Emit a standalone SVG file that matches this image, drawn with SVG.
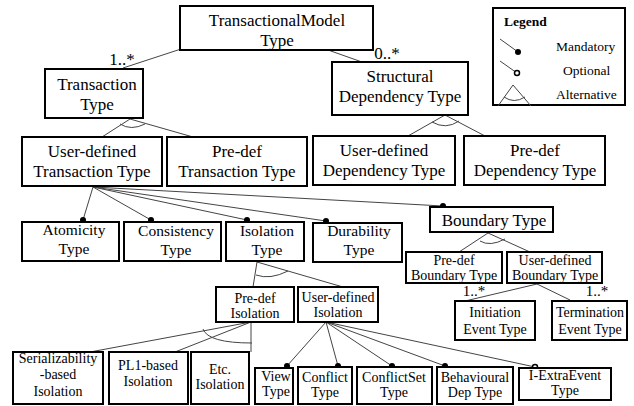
<svg xmlns="http://www.w3.org/2000/svg" width="634" height="406" viewBox="0 0 634 406" font-family="Liberation Serif, serif" style="font-family:'Liberation Serif',serif">
<rect width="634" height="406" fill="#fff"/>
<g id="connectors">
<g stroke="#444" stroke-width="1" fill="none">
<line x1="181" y1="49" x2="123" y2="68"/>
<line x1="328" y1="50" x2="362" y2="62"/>
<line x1="130" y1="119" x2="102" y2="137"/>
<line x1="130" y1="119" x2="193" y2="137"/>
<path d="M120,124 Q131,131 145,124"/>
<line x1="445" y1="115" x2="408" y2="136"/>
<line x1="445" y1="115" x2="485" y2="136"/>
<path d="M432,122 Q446,130 459,121"/>
<line x1="93" y1="187" x2="83" y2="220"/>
<line x1="93" y1="187" x2="151" y2="220"/>
<line x1="93" y1="187" x2="247" y2="220"/>
<line x1="93" y1="187" x2="326" y2="221"/>
<line x1="93" y1="187" x2="443" y2="206"/>
<line x1="488" y1="233" x2="459" y2="252"/>
<line x1="488" y1="233" x2="530" y2="252"/>
<path d="M480,241 Q490,247 505,239"/>
<line x1="537" y1="284" x2="465" y2="301"/>
<line x1="537" y1="284" x2="570" y2="300"/>
<line x1="257" y1="262" x2="253" y2="287"/>
<line x1="257" y1="262" x2="343" y2="287"/>
<path d="M256,275 Q270,280 288,271"/>
<line x1="251" y1="322" x2="90" y2="352"/>
<line x1="251" y1="322" x2="175" y2="352"/>
<line x1="251" y1="322" x2="251" y2="352"/>
<path d="M203,329 Q208,343 252,343"/>
<line x1="326" y1="322" x2="287" y2="366"/>
<line x1="326" y1="322" x2="338" y2="366"/>
<line x1="326" y1="322" x2="392" y2="366"/>
<line x1="326" y1="322" x2="445" y2="366"/>
<line x1="326" y1="322" x2="535" y2="367"/>
</g>
<g fill="#000">
<circle cx="83" cy="220" r="3"/>
<circle cx="151" cy="220" r="3"/>
<circle cx="247" cy="220" r="3"/>
<circle cx="326" cy="221" r="3"/>
<circle cx="443" cy="206" r="3"/>
<circle cx="287" cy="366" r="3"/>
<circle cx="338" cy="366" r="3"/>
<circle cx="392" cy="366" r="3"/>
<circle cx="445" cy="366" r="3"/>
</g>
<circle cx="535" cy="367" r="2.5" fill="#fff" stroke="#000" stroke-width="1.5"/>
<text style="font-family:'Liberation Serif',serif" font-size="17" text-anchor="middle" x="122" y="65">1..*</text>
<text style="font-family:'Liberation Serif',serif" font-size="17" text-anchor="middle" x="387" y="59">0..*</text>
<text style="font-family:'Liberation Serif',serif" font-size="15" text-anchor="middle" x="474" y="296">1..*</text>
<text style="font-family:'Liberation Serif',serif" font-size="15" text-anchor="middle" x="597" y="296">1..*</text>
</g>
<g id="tmt"><rect fill="#fff" stroke="#000" stroke-width="2" x="180" y="6" width="193" height="44"/><text style="font-family:'Liberation Serif',serif" font-size="17" text-anchor="middle" x="277" y="26">TransactionalModel</text><text style="font-family:'Liberation Serif',serif" font-size="17" text-anchor="middle" x="277" y="46">Type</text></g>
<g id="tt"><rect fill="#fff" stroke="#000" stroke-width="2" x="45" y="69" width="98" height="49"/><text style="font-family:'Liberation Serif',serif" font-size="17" text-anchor="middle" x="97" y="90">Transaction</text><text style="font-family:'Liberation Serif',serif" font-size="17" text-anchor="middle" x="97" y="110">Type</text></g>
<g id="sdt"><rect fill="#fff" stroke="#000" stroke-width="2" x="332" y="62" width="136" height="53"/><text style="font-family:'Liberation Serif',serif" font-size="17" text-anchor="middle" x="400" y="82">Structural</text><text style="font-family:'Liberation Serif',serif" font-size="17" text-anchor="middle" x="400" y="102">Dependency Type</text></g>
<g id="legend"><rect fill="#fff" stroke="#000" stroke-width="2" x="493" y="8" width="132" height="97"/>
<text style="font-family:'Liberation Serif',serif" font-size="13.5" x="504" y="26" font-weight="bold">Legend</text>
<line stroke="#444" x1="500" y1="39" x2="518" y2="52"/><circle fill="#000" cx="518" cy="52" r="3"/>
<text style="font-family:'Liberation Serif',serif" font-size="13.5" x="556" y="51">Mandatory</text>
<line stroke="#444" x1="500" y1="61" x2="517" y2="73"/><circle fill="#fff" stroke="#000" stroke-width="1.5" cx="517" cy="73" r="2.5"/>
<text style="font-family:'Liberation Serif',serif" font-size="13.5" x="563" y="75">Optional</text>
<line stroke="#444" x1="513" y1="85" x2="498" y2="106"/><line stroke="#444" x1="513" y1="85" x2="531" y2="106"/>
<path stroke="#444" fill="none" d="M504,97 Q514,104 525,97"/>
<text style="font-family:'Liberation Serif',serif" font-size="13.5" x="556" y="99">Alternative</text></g>
<g id="udtt"><rect fill="#fff" stroke="#000" stroke-width="2" x="22" y="137" width="140" height="49"/><text style="font-family:'Liberation Serif',serif" font-size="17" text-anchor="middle" x="92" y="157">User-defined</text><text style="font-family:'Liberation Serif',serif" font-size="17" text-anchor="middle" x="92" y="177">Transaction Type</text></g>
<g id="pdtt"><rect fill="#fff" stroke="#000" stroke-width="2" x="167" y="137" width="140" height="49"/><text style="font-family:'Liberation Serif',serif" font-size="17" text-anchor="middle" x="237" y="157">Pre-def</text><text style="font-family:'Liberation Serif',serif" font-size="17" text-anchor="middle" x="237" y="177">Transaction Type</text></g>
<g id="uddt"><rect fill="#fff" stroke="#000" stroke-width="2" x="313" y="136" width="142" height="49"/><text style="font-family:'Liberation Serif',serif" font-size="17" text-anchor="middle" x="384" y="156">User-defined</text><text style="font-family:'Liberation Serif',serif" font-size="17" text-anchor="middle" x="384" y="176">Dependency Type</text></g>
<g id="pddt"><rect fill="#fff" stroke="#000" stroke-width="2" x="464" y="136" width="141" height="49"/><text style="font-family:'Liberation Serif',serif" font-size="17" text-anchor="middle" x="535" y="156">Pre-def</text><text style="font-family:'Liberation Serif',serif" font-size="17" text-anchor="middle" x="535" y="176">Dependency Type</text></g>
<g id="atom"><rect fill="#fff" stroke="#000" stroke-width="2" x="22" y="222" width="97" height="39"/><text style="font-family:'Liberation Serif',serif" font-size="15.5" text-anchor="middle" x="74" y="235">Atomicity</text><text style="font-family:'Liberation Serif',serif" font-size="15.5" text-anchor="middle" x="74" y="254">Type</text></g>
<g id="cons"><rect fill="#fff" stroke="#000" stroke-width="2" x="124" y="222" width="97" height="39"/><text style="font-family:'Liberation Serif',serif" font-size="15.5" text-anchor="middle" x="176" y="236">Consistency</text><text style="font-family:'Liberation Serif',serif" font-size="15.5" text-anchor="middle" x="176" y="255">Type</text></g>
<g id="isol"><rect fill="#fff" stroke="#000" stroke-width="2" x="226" y="222" width="78" height="39"/><text style="font-family:'Liberation Serif',serif" font-size="15.5" text-anchor="middle" x="267" y="236">Isolation</text><text style="font-family:'Liberation Serif',serif" font-size="15.5" text-anchor="middle" x="267" y="255">Type</text></g>
<g id="dura"><rect fill="#fff" stroke="#000" stroke-width="2" x="313" y="223" width="89" height="39"/><text style="font-family:'Liberation Serif',serif" font-size="15.5" text-anchor="middle" x="359" y="236">Durability</text><text style="font-family:'Liberation Serif',serif" font-size="15.5" text-anchor="middle" x="359" y="255">Type</text></g>
<g id="bound"><rect fill="#fff" stroke="#000" stroke-width="2" x="430" y="207" width="123" height="25"/><text style="font-family:'Liberation Serif',serif" font-size="17" text-anchor="middle" x="494" y="226">Boundary Type</text></g>
<g id="pdbt"><rect fill="#fff" stroke="#000" stroke-width="2" x="406" y="252" width="96" height="31"/><text style="font-family:'Liberation Serif',serif" font-size="14" text-anchor="middle" x="454" y="265">Pre-def</text><text style="font-family:'Liberation Serif',serif" font-size="14" text-anchor="middle" x="454" y="280">Boundary Type</text></g>
<g id="udbt"><rect fill="#fff" stroke="#000" stroke-width="2" x="507" y="252" width="95" height="31"/><text style="font-family:'Liberation Serif',serif" font-size="14" text-anchor="middle" x="555" y="265">User-defined</text><text style="font-family:'Liberation Serif',serif" font-size="14" text-anchor="middle" x="555" y="280">Boundary Type</text></g>
<g id="init"><rect fill="#fff" stroke="#000" stroke-width="2" x="455" y="301" width="80" height="39"/><text style="font-family:'Liberation Serif',serif" font-size="14" text-anchor="middle" x="495" y="317">Initiation</text><text style="font-family:'Liberation Serif',serif" font-size="14" text-anchor="middle" x="495" y="334">Event Type</text></g>
<g id="term"><rect fill="#fff" stroke="#000" stroke-width="2" x="552" y="301" width="75" height="39"/><text style="font-family:'Liberation Serif',serif" font-size="14" text-anchor="middle" x="590" y="317">Termination</text><text style="font-family:'Liberation Serif',serif" font-size="14" text-anchor="middle" x="590" y="334">Event Type</text></g>
<g id="pdi"><rect fill="#fff" stroke="#000" stroke-width="2" x="216" y="287" width="78" height="35"/><text style="font-family:'Liberation Serif',serif" font-size="14" text-anchor="middle" x="255" y="303">Pre-def</text><text style="font-family:'Liberation Serif',serif" font-size="14" text-anchor="middle" x="255" y="318">Isolation</text></g>
<g id="udi"><rect fill="#fff" stroke="#000" stroke-width="2" x="298" y="287" width="80" height="35"/><text style="font-family:'Liberation Serif',serif" font-size="14" text-anchor="middle" x="338" y="302">User-defined</text><text style="font-family:'Liberation Serif',serif" font-size="14" text-anchor="middle" x="338" y="317">Isolation</text></g>
<g id="ser"><rect fill="#fff" stroke="#000" stroke-width="2" x="13" y="352" width="90" height="52"/><text style="font-family:'Liberation Serif',serif" font-size="14" text-anchor="middle" x="58" y="363">Serializability</text><text style="font-family:'Liberation Serif',serif" font-size="14" text-anchor="middle" x="58" y="379">-based</text><text style="font-family:'Liberation Serif',serif" font-size="14" text-anchor="middle" x="58" y="396">Isolation</text></g>
<g id="pl1"><rect fill="#fff" stroke="#000" stroke-width="2" x="109" y="352" width="79" height="52"/><text style="font-family:'Liberation Serif',serif" font-size="14" text-anchor="middle" x="148" y="370">PL1-based</text><text style="font-family:'Liberation Serif',serif" font-size="14" text-anchor="middle" x="148" y="386">Isolation</text></g>
<g id="etc"><rect fill="#fff" stroke="#000" stroke-width="2" x="191" y="352" width="58" height="52"/><text style="font-family:'Liberation Serif',serif" font-size="14" text-anchor="middle" x="220" y="374">Etc.</text><text style="font-family:'Liberation Serif',serif" font-size="14" text-anchor="middle" x="220" y="389">Isolation</text></g>
<g id="view"><rect fill="#fff" stroke="#000" stroke-width="2" x="255" y="368" width="38" height="36"/><text style="font-family:'Liberation Serif',serif" font-size="14" text-anchor="middle" x="276" y="381">View</text><text style="font-family:'Liberation Serif',serif" font-size="14" text-anchor="middle" x="276" y="396">Type</text></g>
<g id="conf"><rect fill="#fff" stroke="#000" stroke-width="2" x="298" y="367" width="54" height="37"/><text style="font-family:'Liberation Serif',serif" font-size="14" text-anchor="middle" x="325" y="382">Conflict</text><text style="font-family:'Liberation Serif',serif" font-size="14" text-anchor="middle" x="325" y="397">Type</text></g>
<g id="confset"><rect fill="#fff" stroke="#000" stroke-width="2" x="357" y="367" width="75" height="37"/><text style="font-family:'Liberation Serif',serif" font-size="14" text-anchor="middle" x="394" y="382">ConflictSet</text><text style="font-family:'Liberation Serif',serif" font-size="14" text-anchor="middle" x="394" y="397">Type</text></g>
<g id="beh"><rect fill="#fff" stroke="#000" stroke-width="2" x="437" y="367" width="76" height="37"/><text style="font-family:'Liberation Serif',serif" font-size="14" text-anchor="middle" x="475" y="382">Behavioural</text><text style="font-family:'Liberation Serif',serif" font-size="14" text-anchor="middle" x="475" y="397">Dep Type</text></g>
<g id="iext"><rect fill="#fff" stroke="#000" stroke-width="2" x="519" y="368" width="92" height="32"/><text style="font-family:'Liberation Serif',serif" font-size="14" text-anchor="middle" x="565" y="380">I-ExtraEvent</text><text style="font-family:'Liberation Serif',serif" font-size="14" text-anchor="middle" x="565" y="395">Type</text></g>
</svg>
